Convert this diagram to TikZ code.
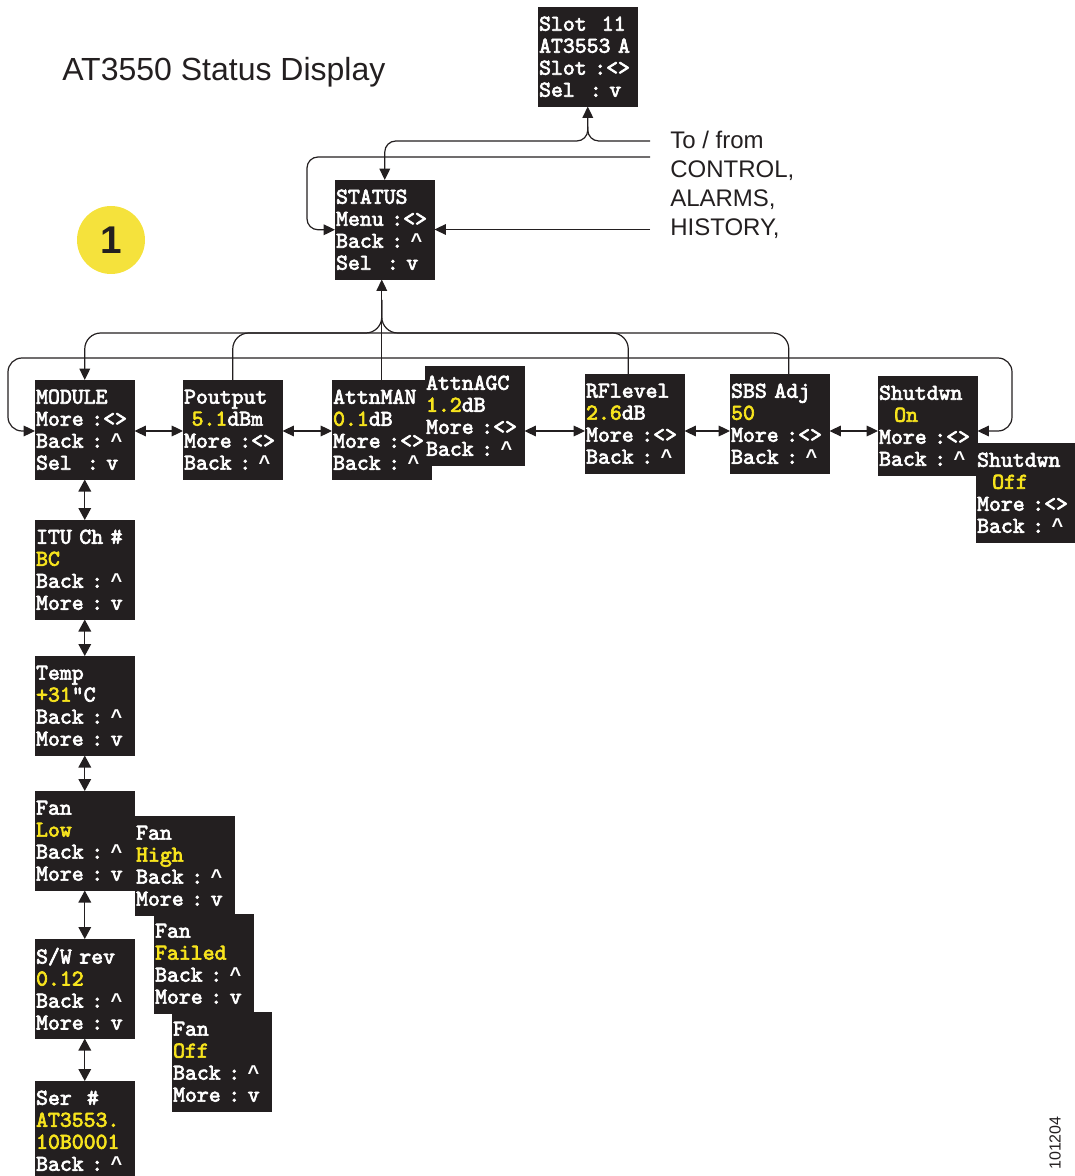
\documentclass[tikz,border=0pt]{standalone}
\usepackage{fontspec}
\setmainfont{Liberation Sans}
\newfontfamily\scrfont{lmmono10-regular.otf}[RawFeature={embolden=3}]
\newfontfamily\crtfont{Liberation Mono}
\usetikzlibrary{arrows.meta,calc,backgrounds}
\definecolor{boxc}{HTML}{231F20}
\definecolor{scrY}{HTML}{F7E41D}
\definecolor{dotY}{HTML}{F5E23C}
\definecolor{linec}{HTML}{231F20}
\newcommand{\yl}[1]{\textcolor{scrY}{#1}}
\newcommand{\crt}{{\crtfont\bfseries\fontsize{15}{16.5}\selectfont\textasciicircum}}
\begin{document}
\begin{tikzpicture}[x=0.75pt,y=-0.75pt,
  scr/.style={anchor=north west, text=white, minimum width=74.25pt, minimum height=74.25pt,
    text width=73pt, inner xsep=0.6pt, inner ysep=0pt, align=left,
    font=\scrfont\fontsize{17}{16.5}\selectfont},
  lnk/.style={draw=linec, line width=0.9pt},
  tipb/.style={-{Triangle[length=8.5pt,width=8pt]}},
  dbl/.style={{Triangle[length=8.5pt,width=8pt]}-{Triangle[length=8.5pt,width=8pt]}},
  dblv/.style={{Triangle[length=9pt,width=9.5pt]}-{Triangle[length=9pt,width=9.5pt]}},
  lbl/.style={anchor=base west, inner sep=0pt, text=linec, font=\fontsize{18}{20}\selectfont},
]
\useasboundingbox (0,0) rectangle (1074,1176);

% title and marker
\node[anchor=base west, inner sep=0pt, text=linec, font=\fontsize{24}{28}\selectfont] (title) at (62,81) {AT3550 Status Display};
\node[circle, fill=dotY, minimum size=51pt, inner sep=0pt, text=linec, font=\bfseries\fontsize{29}{30}\selectfont] (one) at (111,240) {1};
\node[rotate=90, inner sep=0pt, text=linec, font=\fontsize{12}{14}\selectfont] (fig) at (1055,1143) {101204};

% external labels
\node[lbl] (tf1) at (670,149) {To / from};
\node[lbl] (tf2) at (670,178) {CONTROL,};
\node[lbl] (tf3) at (670,206.5) {ALARMS,};
\node[lbl] (tf4) at (670,235.5) {HISTORY,};

% screens
\node[scr] (slot) at (538,7) {Slot~~11\\AT3553~A\\Slot~:<>\\Sel~~:~v};
\node[scr] (status) at (335,180) {STATUS\\Menu~:<>\\Back~:~\crt\\Sel~~:~v};
\node[scr] (module) at (35,380) {MODULE\\More~:<>\\Back~:~\crt\\Sel~~:~v};
\node[scr] (pout) at (183,380) {Poutput\\~\yl{5.1}dBm\\More~:<>\\Back~:~\crt};
\node[scr] (attnman) at (332,380) {AttnMAN\\\yl{0.1}dB\\More~:<>\\Back~:~\crt};
\node[scr] (agc) at (425,366) {AttnAGC\\\yl{1.2}dB\\More~:<>\\Back~:~\crt};
\node[scr] (rflevel) at (585,374) {RFlevel\\\yl{2.6}dB\\More~:<>\\Back~:~\crt};
\node[scr] (sbs) at (730,374) {SBS~Adj\\\yl{50}\\More~:<>\\Back~:~\crt};
\node[scr] (shon) at (878,376) {Shutdwn\\~~\yl{On}\\More~:<>\\Back~:~\crt};
\node[scr] (shoff) at (976,443) {Shutdwn\\~~\yl{Off}\\More~:<>\\Back~:~\crt};
\node[scr] (itu) at (35,520) {ITU~Ch~\#\\\yl{BC}\\Back~:~\crt\\More~:~v};
\node[scr] (temp) at (35,656) {Temp\\\yl{+31}"C\\Back~:~\crt\\More~:~v};
\node[scr] (fanlow) at (35,791) {Fan\\\yl{Low}\\Back~:~\crt\\More~:~v};
\node[scr] (fanhigh) at (135,816) {Fan\\\yl{High}\\Back~:~\crt\\More~:~v};
\node[scr] (fanfail) at (154,914) {Fan\\\yl{Failed}\\Back~:~\crt\\More~:~v};
\node[scr] (fanoff) at (172,1012) {Fan\\\yl{Off}\\Back~:~\crt\\More~:~v};
\node[scr] (swrev) at (35,939) {S/W~rev\\\yl{0.12}\\Back~:~\crt\\More~:~v};
\node[scr] (ser) at (35,1081) {Ser~~\#\\\yl{AT3553.}\\\yl{10B0001}\\Back~:~\crt};

\begin{pgfonlayer}{background}
\foreach \n in {slot,status,module,pout,attnman,agc,rflevel,sbs,shon,shoff,itu,temp,fanlow,fanhigh,fanfail,fanoff,swrev,ser}
  \fill[boxc] (\n.north west) rectangle (\n.south east);
\end{pgfonlayer}

% coordinates
\coordinate (e1) at (650,141);
\coordinate (e2) at (650,157);
\coordinate (e3) at (650,229.5);
\coordinate (rowy) at (0,431);
\coordinate (upy) at (0,333);
\coordinate (oL) at (8,358);
\coordinate (oR) at (1012,358);
\coordinate (jn) at ($(attnman.north)+(0,-80)$);
\coordinate (rfT) at ($(rflevel.north)+(-6.5,0)$);
\coordinate (sbsT) at ($(sbs.north)+(9,0)$);
\coordinate (slotJ) at ($(slot.south)+(0,20)$);
\coordinate (stL) at ($(status.west)+(-28,0)$);

% top connectors
\draw[lnk, tipb, rounded corners=8.25pt] (e1) -| (slot.south);
\draw[lnk, tipb, rounded corners=8.25pt] (slotJ) |- (status.north |- e1) -- (status.north);
\draw[lnk, tipb, rounded corners=8.25pt] (e2) -| (stL) -- (status.west);
\draw[lnk, tipb] (e3) -- (e3 -| status.east);

% tree under STATUS
\draw[lnk, tipb] (attnman.north) -- (attnman.north |- status.south);
\draw[lnk, tipb, rounded corners=12pt] (jn) |- (module.north |- upy) -- (module.north);
\draw[lnk, rounded corners=12pt] (pout.north) |- (jn |- upy);
\draw[lnk, rounded corners=12pt] (jn) |- (sbsT |- upy) -- (sbsT);
\draw[lnk, rounded corners=12pt] (rfT) |- (jn |- upy);

% outer loop
\draw[lnk, dbl, rounded corners=10.5pt] (module.west |- rowy) -| (oL) -- (oR) |- (shon.east |- rowy);

% row arrows
\draw[lnk, dbl] (module.east |- rowy) -- (pout.west |- rowy);
\draw[lnk, dbl] (pout.east |- rowy) -- (attnman.west |- rowy);
\draw[lnk, dbl] (agc.east |- rowy) -- (rflevel.west |- rowy);
\draw[lnk, dbl] (rflevel.east |- rowy) -- (sbs.west |- rowy);
\draw[lnk, dbl] (sbs.east |- rowy) -- (shon.west |- rowy);

% column arrows
\draw[lnk, dblv] (module.south) -- (itu.north);
\draw[lnk, dblv] (itu.south) -- (temp.north);
\draw[lnk, dblv] (temp.south) -- (fanlow.north);
\draw[lnk, dblv] (fanlow.south) -- (swrev.north);
\draw[lnk, dblv] (swrev.south) -- (ser.north);
\end{tikzpicture}
\end{document}
